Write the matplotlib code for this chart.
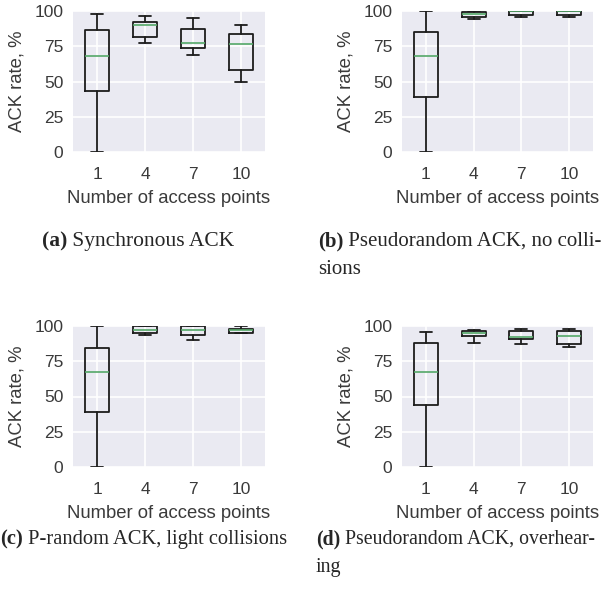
import matplotlib
matplotlib.use("Agg")
import matplotlib.pyplot as plt
import seaborn as sns

sns.set_style("darkgrid")
plt.rcParams['font.family'] = ['Liberation Sans', 'DejaVu Sans']

# Categories: number of access points
ap_labels = ['1', '4', '7', '10']

# Box statistics (whisker low, Q1, median, Q3, whisker high), ACK rate %
sync_lo  = [0.0, 77.6, 68.5, 49.4]
sync_q1  = [43.0, 81.5, 73.5, 58.4]
sync_med = [67.8, 89.8, 77.5, 76.6]
sync_q3  = [86.6, 92.3, 87.0, 83.7]
sync_hi  = [98.0, 96.8, 95.0, 90.0]

nocol_lo  = [0.0, 94.6, 95.5, 95.5]
nocol_q1  = [39.0, 95.8, 96.9, 96.9]
nocol_med = [67.8, 98.0, 100.0, 100.0]
nocol_q3  = [85.3, 99.6, 100.0, 100.0]
nocol_hi  = [100.0, 100.0, 100.0, 100.0]

light_lo  = [0.0, 93.9, 90.0, 95.1]
light_q1  = [38.8, 95.3, 93.9, 95.1]
light_med = [67.5, 97.4, 97.4, 97.0]
light_q3  = [84.5, 99.8, 100.0, 97.9]
light_hi  = [100.0, 100.0, 100.0, 100.0]

over_lo  = [0.0, 88.0, 87.3, 85.0]
over_q1  = [43.8, 92.8, 91.1, 87.3]
over_med = [67.5, 94.9, 92.3, 92.7]
over_q3  = [88.0, 96.5, 96.3, 96.5]
over_hi  = [95.5, 97.4, 97.6, 97.6]

panels = [
    (sync_lo, sync_q1, sync_med, sync_q3, sync_hi),
    (nocol_lo, nocol_q1, nocol_med, nocol_q3, nocol_hi),
    (light_lo, light_q1, light_med, light_q3, light_hi),
    (over_lo, over_q1, over_med, over_q3, over_hi),
]

captions = [
    ("(a)", " Synchronous ACK", None),
    ("(b)", " Pseudorandom ACK, no colli-", "sions"),
    ("(c)", " P-random ACK, light collisions", None),
    ("(d)", " Pseudorandom ACK, overhear-", "ing"),
]

W, H = 611, 595
fig = plt.figure(figsize=(W / 100, H / 100), dpi=100)

# axes boxes in pixels: left, top, right, bottom
ax_px = [(73, 11, 265, 152), (402, 11, 593, 152),
         (73, 326, 265, 467), (402, 326, 593, 467)]
cap_px = [(42, 246), (318, 246), (0, 544), (316, 544)]
cap_fs = [15.5, 15.0, 14.8, 14.3]

box_color = '#1c1c1c'
med_color = '#55A868'

for i, (lo, q1, med, q3, hi) in enumerate(panels):
    l, t, r, b = ax_px[i]
    ax = fig.add_axes([l / W, 1 - b / H, (r - l) / W, (b - t) / H])
    stats = []
    for k in range(len(ap_labels)):
        stats.append(dict(whislo=lo[k], q1=q1[k], med=med[k], q3=q3[k],
                          whishi=hi[k], fliers=[], label=ap_labels[k]))
    ax.bxp(stats, positions=range(1, len(ap_labels) + 1), widths=0.5,
           showfliers=False,
           boxprops=dict(color=box_color, linewidth=1.3),
           whiskerprops=dict(color=box_color, linewidth=1.3),
           capprops=dict(color=box_color, linewidth=1.3),
           medianprops=dict(color=med_color, linewidth=1.2))
    ax.set_xlim(0.5, len(ap_labels) + 0.5)
    ax.set_ylim(0, 100)
    ax.set_yticks([0, 25, 50, 75, 100])
    ax.grid(True, color='white', linewidth=1.2)
    ax.set_facecolor('#EAEAF2')
    ax.tick_params(axis='both', length=0, labelsize=12.5, colors='#3a3a3a')
    ax.tick_params(axis='y', pad=7)
    ax.tick_params(axis='x', pad=10.5)
    ax.set_ylabel('ACK rate, %', fontsize=13.3, color='#3a3a3a', labelpad=6)
    ax.set_xlabel('Number of access points', fontsize=13.3, color='#3a3a3a',
                  labelpad=6)
    for s in ax.spines.values():
        s.set_visible(False)

    bold, rest, second = captions[i]
    cx, cy = cap_px[i]
    fs = cap_fs[i]
    tb = fig.text(cx / W, 1 - cy / H, bold, fontsize=fs, fontweight='bold',
                  family='Liberation Serif', va='baseline', ha='left')
    fig.add_artist(matplotlib.text.Annotation(
        rest, xy=(1, 0), xycoords=tb, va='bottom', ha='left',
        fontsize=fs, family='Liberation Serif'))
    if second:
        fig.text(cx / W, 1 - (cy + 28) / H, second, fontsize=fs,
                 family='Liberation Serif', va='baseline', ha='left')

fig.savefig('out.png', dpi=100)
